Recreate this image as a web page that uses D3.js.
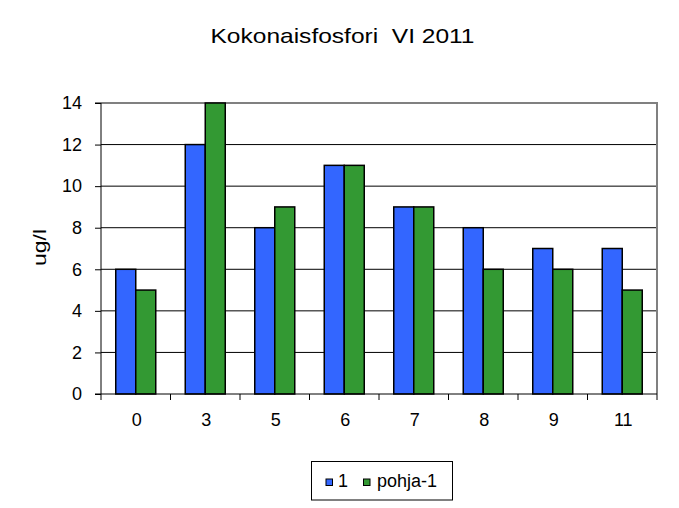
<!DOCTYPE html>
<html><head><meta charset="utf-8">
<script src="https://cdn.jsdelivr.net/npm/d3@7"></script>
<style>body{margin:0;background:#fff;}svg{display:block;font-family:"Liberation Sans",Arial,sans-serif;}</style>
</head><body>
<script>
const categories = ["0","3","5","6","7","8","9","11"];
const series1 = [6,12,8,11,9,8,7,7];
const seriesPohja = [5,14,9,11,9,6,6,5];
const seriesNames = ["1","pohja-1"];
const yTicks = [0,2,4,6,8,10,12,14];
const colors = ["#3366FF","#339933"];

const W=679,H=508;
const FONT="Liberation Sans, Arial, sans-serif";
const svg=d3.select("body").append("svg").attr("width",W).attr("height",H);
const L=101,R=657,T=103,B=394;
const x=d3.scaleBand().domain(categories).range([L,R]).paddingInner(0).paddingOuter(0);
const y=d3.scaleLinear().domain([0,14]).range([B,T]);

// gridlines
svg.append("g").selectAll("line").data(yTicks.filter(d=>d>0&&d<14)).join("line")
 .attr("x1",L).attr("x2",R).attr("y1",d=>y(d)).attr("y2",d=>y(d)).attr("stroke","#000").attr("stroke-width",1);
// top/right border gray
svg.append("line").attr("x1",L).attr("x2",R+1).attr("y1",T).attr("y2",T).attr("stroke","#808080").attr("stroke-width",2);
svg.append("line").attr("x1",R).attr("x2",R).attr("y1",T).attr("y2",B).attr("stroke","#808080").attr("stroke-width",2);

const data=[series1,seriesPohja];
const bw=20;
const g=svg.append("g");
categories.forEach((c,i)=>{
  const cx=x(c)+x.bandwidth()/2;
  data.forEach((s,j)=>{
    const x0=cx-bw+j*bw;
    g.append("rect").attr("x",x0).attr("y",y(s[i])).attr("width",bw).attr("height",B-y(s[i]))
     .attr("fill",colors[j]).attr("stroke","#000").attr("stroke-width",1.5);
  });
});

// axes
const ya=svg.append("g").attr("transform",`translate(${L},0)`).call(d3.axisLeft(y).tickValues(yTicks).tickSize(6).tickPadding(13));
ya.selectAll("text").attr("font-size",18).attr("fill","#000").attr("font-family",FONT);
ya.selectAll("line,path").attr("stroke","#000");
ya.select("path").attr("d",`M-6,${y(0)}H0V${y(14)}H-6`).attr("stroke-width",1);

const xa=svg.append("g").attr("transform",`translate(1,${B})`).call(d3.axisBottom(x).tickSize(0).tickPadding(19));
xa.select("path").remove();
xa.selectAll("text").attr("font-size",18).attr("fill","#000").attr("font-family",FONT);
svg.append("line").attr("x1",L).attr("x2",R).attr("y1",B).attr("y2",B).attr("stroke","#000");
const bounds=categories.map(c=>x(c)).concat([R]);
svg.append("g").selectAll("line").data(bounds).join("line")
 .attr("x1",d=>d).attr("x2",d=>d).attr("y1",B).attr("y2",B+6).attr("stroke","#000");

// title
svg.append("text").attr("x",342.5).attr("y",43).attr("text-anchor","middle").attr("font-size",21)
 .attr("textLength",264).attr("lengthAdjust","spacingAndGlyphs").style("white-space","pre").text("Kokonaisfosfori  VI 2011");
// y label
svg.append("text").attr("transform","translate(46,247.5) rotate(-90)").attr("text-anchor","middle").attr("font-size",18)
 .attr("textLength",37).attr("lengthAdjust","spacingAndGlyphs").text("ug/l");

// legend
const lg=svg.append("g");
lg.append("rect").attr("x",311.5).attr("y",461.5).attr("width",141).attr("height",38.5).attr("fill","#fff").attr("stroke","#000");
const items=[{x:326,tx:338},{x:363.5,tx:377}];
seriesNames.forEach((n,i)=>{
  lg.append("rect").attr("x",items[i].x).attr("y",479).attr("width",6.5).attr("height",6.5).attr("fill",colors[i]).attr("stroke","#000");
  lg.append("text").attr("x",items[i].tx).attr("y",487).attr("font-size",18).text(n);
});
</script>
</body></html>
